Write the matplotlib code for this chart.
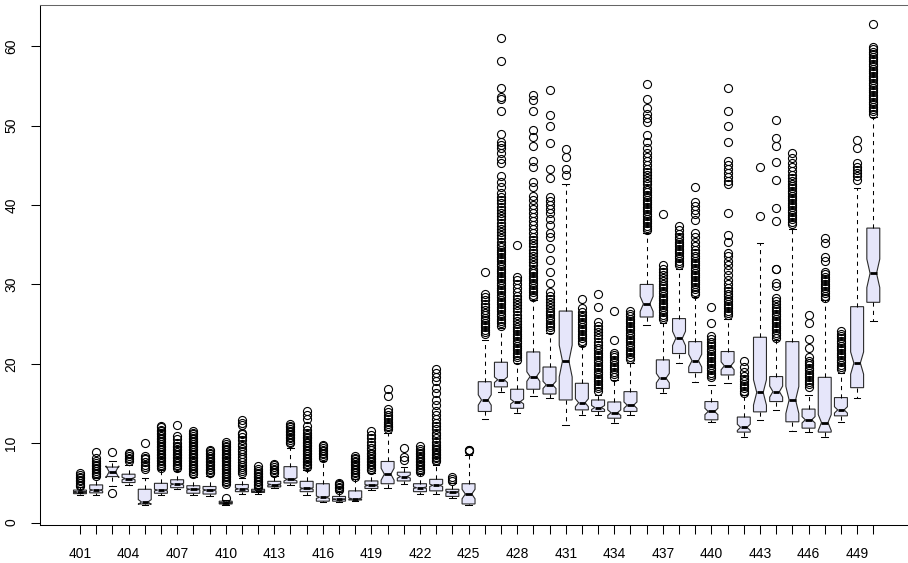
import numpy as np
import matplotlib
matplotlib.use('Agg')
import matplotlib.pyplot as plt

plt.rcParams['font.family'] = ['Liberation Sans', 'DejaVu Sans']

groups = list(range(401, 451))

# five-number summaries per group
whis_lo = [3.5, 3.5, 4.6, 4.75, 2.2, 3.5, 4.2, 3.5, 3.4, 2.2,
           3.6, 3.6, 4.3, 4.8, 3.5, 2.6, 2.6, 2.7, 4.1, 4.35,
           4.9, 3.6, 3.6, 3.1, 2.2, 13.05, 16.4, 13.85, 15.95, 15.7,
           12.3, 13.55, 13.55, 12.6, 13.6, 24.9, 16.3, 20.1, 17.75, 12.7,
           17.6, 10.8, 12.95, 14.2, 11.5, 11.4, 10.8, 12.7, 15.7, 25.45]
q1 = [3.65, 3.75, 5.8, 5.05, 2.35, 3.7, 4.4, 3.7, 3.6, 2.35,
      3.9, 3.8, 4.5, 5.0, 3.9, 2.7, 2.7, 2.85, 4.3, 4.9,
      5.25, 3.9, 4.0, 3.3, 2.35, 14.0, 17.1, 14.4, 16.8, 16.2,
      15.45, 14.2, 14.0, 13.15, 14.0, 25.9, 16.9, 21.3, 18.9, 12.95,
      18.6, 11.4, 13.95, 15.25, 12.7, 11.9, 11.4, 13.45, 17.0, 27.75]
med = [3.85, 4.1, 6.4, 5.55, 2.6, 4.1, 4.85, 4.2, 4.1, 2.5,
       4.25, 3.95, 4.8, 5.45, 4.3, 3.2, 2.95, 3.0, 4.7, 6.1,
       5.8, 4.4, 4.7, 3.85, 3.6, 15.45, 18.0, 15.25, 18.4, 17.35,
       20.35, 15.1, 14.5, 13.85, 14.8, 27.55, 18.2, 23.2, 20.4, 14.0,
       19.75, 12.0, 16.4, 16.5, 15.45, 12.95, 12.6, 14.2, 20.1, 31.4]
q3 = [4.1, 4.75, 7.0, 6.1, 4.2, 4.95, 5.4, 4.65, 4.55, 2.7,
      4.8, 4.2, 5.2, 7.05, 5.2, 4.9, 3.3, 4.0, 5.25, 7.7,
      6.35, 4.9, 5.45, 4.2, 4.9, 17.75, 20.2, 16.8, 21.5, 19.6,
      26.65, 17.55, 15.45, 15.2, 16.5, 30.0, 20.5, 25.7, 22.8, 15.25,
      21.55, 13.3, 23.35, 18.4, 22.8, 14.3, 18.3, 15.75, 27.2, 37.1]
whis_hi = [4.5, 5.6, 7.8, 7.3, 5.6, 6.6, 6.5, 5.8, 5.9, 2.9,
           5.6, 4.3, 5.9, 9.4, 6.6, 7.8, 3.8, 5.5, 6.3, 11.3,
           7.0, 6.1, 7.2, 5.0, 8.5, 23.0, 24.5, 20.1, 28.0, 23.85,
           42.6, 22.2, 16.1, 18.0, 20.1, 36.45, 25.1, 32.0, 28.45, 17.35,
           25.7, 16.1, 35.25, 23.0, 37.0, 16.1, 28.0, 18.8, 42.1, 51.1]
# half-height of the notch around the median
notch = [0.05, 0.1, 0.75, 0.15, 0.3, 0.1, 0.1, 0.08, 0.1, 0.03,
         0.1, 0.03, 0.08, 0.2, 0.1, 0.15, 0.05, 0.1, 0.1, 0.75,
         0.2, 0.1, 0.15, 0.1, 0.6, 0.65, 0.35, 0.3, 0.6, 0.45,
         2.0, 0.5, 0.25, 0.35, 0.4, 0.95, 0.6, 0.9, 0.8, 0.4,
         0.5, 0.4, 1.6, 0.7, 1.7, 0.4, 1.0, 0.4, 1.4, 1.8]

fliers = [
    [4.6, 4.8, 5.0, 5.2, 5.4, 5.6, 5.8, 6.0, 6.2],
    [5.9, 6.1, 6.3, 6.5, 6.7, 6.9, 7.1, 7.3, 7.5, 7.8, 8.2, 8.9],
    [3.7, 8.9],
    [7.8, 8.0, 8.2, 8.4, 8.6, 8.8],
    [6.8, 7.0, 7.3, 7.6, 8.0, 8.2, 8.4, 10.0],
    [6.9, 7.1, 7.3, 7.5, 7.7, 7.9, 8.1, 8.3, 8.5, 8.7, 8.9, 9.1, 9.3, 9.5,
     9.7, 9.9, 10.1, 10.3, 10.5, 10.7, 10.9, 11.1, 11.3, 11.5, 11.7, 12.0, 12.2],
    [6.9, 7.1, 7.3, 7.5, 7.7, 7.9, 8.1, 8.3, 8.5, 8.7, 8.9, 9.1, 9.3, 9.5,
     9.7, 10.0, 10.5, 10.9, 12.3],
    [6.1, 6.3, 6.5, 6.7, 6.9, 7.1, 7.3, 7.5, 7.7, 7.9, 8.1, 8.3, 8.5, 8.7,
     8.9, 9.1, 9.3, 9.5, 9.7, 9.9, 10.1, 10.3, 10.5, 10.7, 10.9, 11.1, 11.3, 11.5],
    [6.2, 6.4, 6.6, 6.8, 7.0, 7.2, 7.4, 7.6, 7.8, 8.0, 8.2, 8.4, 8.6, 8.8, 9.0, 9.1],
    [3.1, 4.9, 5.1, 5.3, 5.5, 5.7, 5.9, 6.1, 6.3, 6.5, 6.7, 6.9, 7.1, 7.3,
     7.5, 7.7, 7.9, 8.1, 8.3, 8.5, 8.7, 8.9, 9.1, 9.3, 9.5, 9.7, 9.9, 10.1],
    [6.3, 6.5, 6.8, 7.0, 7.3, 7.6, 8.0, 8.3, 8.6, 9.0, 9.3, 9.6, 9.9, 10.4,
     10.8, 11.1, 11.3, 12.3, 12.6, 12.9],
    [4.5, 4.7, 4.9, 5.1, 5.3, 5.5, 5.7, 5.9, 6.1, 6.3, 6.5, 6.8, 7.1],
    [6.2, 6.4, 6.6, 6.8, 7.0, 7.2, 7.4],
    [10.0, 10.2, 10.4, 10.6, 10.8, 11.0, 11.2, 11.4, 11.6, 11.8, 12.0, 12.2, 12.4],
    [7.0, 7.2, 7.4, 7.6, 7.8, 8.0, 8.2, 8.4, 8.6, 8.8, 9.0, 9.2, 9.4, 9.6,
     9.8, 10.0, 10.2, 10.4, 10.6, 10.8, 11.0, 11.3, 11.7, 12.2, 13.1, 13.5, 14.1],
    [8.2, 8.4, 8.6, 8.8, 9.0, 9.2, 9.4, 9.6, 9.8],
    [4.1, 4.3, 4.5, 4.7, 4.9, 5.0],
    [5.8, 6.0, 6.2, 6.4, 6.6, 6.8, 7.0, 7.2, 7.4, 7.6, 7.8, 8.0, 8.2, 8.4],
    [6.6, 6.8, 7.0, 7.2, 7.4, 7.6, 7.8, 8.0, 8.2, 8.4, 8.6, 8.8, 9.1, 9.4,
     9.8, 10.2, 10.6, 11.0, 11.5],
    [11.8, 12.0, 12.2, 12.4, 12.7, 13.0, 13.3, 13.6, 13.9, 14.3, 15.9, 16.8],
    [7.9, 8.3, 9.4],
    [6.4, 6.6, 6.8, 7.0, 7.2, 7.4, 7.6, 7.8, 8.0, 8.2, 8.4, 8.6, 8.8, 9.0, 9.3, 9.6],
    [7.7, 7.9, 8.1, 8.3, 8.5, 8.7, 8.9, 9.1, 9.3, 9.5, 9.8, 10.2, 10.6, 11.0,
     11.3, 11.8, 12.2, 12.6, 13.0, 13.5, 14.0, 14.8, 15.5, 16.3, 17.0, 17.8,
     18.3, 18.8, 19.3],
    [5.3, 5.5, 5.7],
    [9.0, 9.1, 9.2],
    [23.7, 24.0, 24.3, 24.6, 24.9, 25.2, 25.5, 25.8, 26.1, 26.4, 26.8, 27.2,
     27.6, 28.0, 28.4, 28.8, 31.6],
    [24.8, 25.1, 25.4, 25.7, 26.0, 26.3, 26.6, 26.9, 27.2, 27.5, 27.8, 28.1,
     28.4, 28.7, 29.0, 29.3, 29.6, 29.9, 30.2, 30.5, 30.8, 31.1, 31.4, 31.7,
     32.0, 32.3, 32.6, 32.9, 33.2, 33.5, 33.8, 34.1, 34.4, 34.7, 35.0, 35.4,
     35.8, 36.2, 36.6, 37.0, 37.4, 37.8, 38.2, 38.6, 39.0, 39.4, 39.8, 40.2,
     40.6, 41.0, 41.5, 42.3, 42.9, 43.6, 45.3, 45.8, 46.6, 47.2, 47.6, 48.0,
     49.0, 51.8, 53.3, 53.6, 54.8, 58.1, 61.0],
    [20.5, 20.8, 21.1, 21.4, 21.7, 22.0, 22.3, 22.6, 22.9, 23.2, 23.5, 23.8,
     24.1, 24.4, 24.7, 25.0, 25.4, 25.8, 26.2, 26.6, 27.0, 27.4, 27.8, 28.2,
     28.6, 29.0, 29.5, 30.0, 30.5, 31.0, 35.0],
    [28.4, 28.7, 29.0, 29.3, 29.6, 29.9, 30.2, 30.5, 30.8, 31.1, 31.4, 31.7,
     32.0, 32.4, 32.8, 33.2, 33.6, 34.0, 34.4, 34.8, 35.2, 35.6, 36.0, 36.5,
     37.0, 37.5, 38.0, 38.5, 39.0, 39.5, 40.0, 40.6, 41.2, 42.3, 42.9, 44.8,
     45.5, 47.5, 48.6, 49.4, 51.8, 53.2, 53.9],
    [24.3, 24.6, 24.9, 25.2, 25.5, 25.8, 26.1, 26.4, 26.7, 27.0, 27.4, 27.8,
     28.2, 28.6, 29.0, 30.2, 31.6, 33.1, 34.6, 36.0, 36.5, 37.5, 38.3, 39.0,
     39.5, 40.0, 40.5, 41.0, 43.4, 44.6, 47.8, 50.0, 51.3, 54.5],
    [43.8, 44.6, 46.1, 47.0],
    [22.6, 22.9, 23.2, 23.5, 23.8, 24.1, 24.4, 24.7, 25.0, 25.3, 25.6, 25.9,
     26.2, 26.5, 27.0, 28.2],
    [16.6, 16.9, 17.2, 17.5, 17.8, 18.1, 18.4, 18.7, 19.0, 19.3, 19.6, 19.9,
     20.2, 20.5, 20.8, 21.1, 21.4, 21.7, 22.0, 22.4, 22.8, 23.2, 23.6, 24.0,
     24.4, 24.8, 25.3, 27.2, 28.8],
    [18.4, 18.7, 19.0, 19.3, 19.6, 19.9, 20.2, 20.5, 20.8, 21.1, 21.4, 23.0, 26.6],
    [20.6, 20.9, 21.2, 21.5, 21.8, 22.1, 22.4, 22.7, 23.0, 23.3, 23.6, 23.9,
     24.2, 24.5, 24.8, 25.1, 25.4, 25.7, 26.0, 26.3, 26.6],
    [36.8, 37.1, 37.4, 37.7, 38.0, 38.3, 38.6, 38.9, 39.2, 39.5, 39.8, 40.1,
     40.4, 40.7, 41.0, 41.3, 41.6, 41.9, 42.2, 42.6, 43.0, 43.4, 43.8, 44.2,
     44.6, 45.0, 45.5, 46.1, 46.6, 47.2, 48.0, 48.8, 50.5, 51.0, 51.5, 52.2,
     53.4, 55.3],
    [25.6, 25.9, 26.2, 26.5, 26.8, 27.1, 27.4, 27.7, 28.0, 28.3, 28.6, 28.9,
     29.2, 29.5, 29.8, 30.1, 30.4, 30.8, 31.2, 31.6, 32.0, 32.5, 38.9],
    [32.4, 32.7, 33.0, 33.3, 33.6, 33.9, 34.2, 34.5, 34.8, 35.1, 35.4, 35.7,
     36.0, 36.4, 36.9, 37.3],
    [28.8, 29.1, 29.4, 29.7, 30.0, 30.3, 30.6, 30.9, 31.2, 31.5, 31.8, 32.1,
     32.4, 32.7, 33.0, 33.3, 33.6, 34.0, 34.4, 34.9, 35.4, 36.0, 36.5, 38.1,
     38.9, 39.4, 39.9, 40.4, 42.3],
    [18.3, 18.6, 18.9, 19.2, 19.5, 19.8, 20.1, 20.4, 20.7, 21.0, 21.3, 21.6,
     21.9, 22.2, 22.5, 22.8, 23.1, 23.5, 25.1, 27.2],
    [26.1, 26.4, 26.7, 27.0, 27.3, 27.6, 27.9, 28.2, 28.5, 28.8, 29.2, 29.6,
     30.0, 30.6, 31.2, 31.8, 32.4, 33.0, 33.6, 34.0, 35.3, 36.2, 39.0, 42.6,
     43.0, 43.5, 44.0, 44.5, 45.0, 45.5, 48.0, 49.9, 51.8, 54.7],
    [16.3, 16.6, 16.9, 17.2, 17.5, 17.8, 18.1, 18.5, 19.0, 19.6, 20.3],
    [38.6, 44.8],
    [23.3, 23.6, 23.9, 24.2, 24.5, 24.8, 25.1, 25.4, 25.7, 26.0, 26.3, 26.6,
     26.9, 27.2, 27.5, 27.9, 28.3, 29.8, 30.2, 31.9, 32.0, 38.0, 39.6, 43.2,
     45.4, 47.4, 48.4, 50.7],
    [37.6, 37.9, 38.2, 38.5, 38.8, 39.1, 39.4, 39.7, 40.0, 40.3, 40.6, 40.9,
     41.2, 41.5, 41.8, 42.1, 42.4, 42.7, 43.0, 43.4, 43.8, 44.3, 44.8, 45.3,
     45.9, 46.5],
    [17.1, 17.4, 17.7, 18.0, 18.3, 18.6, 18.9, 19.2, 19.5, 19.8, 20.1, 20.4,
     20.9, 22.0, 23.1, 25.1, 26.2],
    [28.3, 28.6, 28.9, 29.2, 29.5, 29.8, 30.1, 30.4, 30.7, 31.0, 31.3, 31.6,
     32.9, 33.5, 35.25, 35.8],
    [19.3, 19.6, 19.9, 20.2, 20.5, 20.8, 21.1, 21.4, 21.7, 22.0, 22.3, 22.6,
     22.9, 23.2, 23.5, 23.8, 24.1],
    [43.2, 43.6, 44.0, 44.4, 44.8, 45.3, 47.2, 48.2],
    [51.5, 51.8, 52.1, 52.4, 52.7, 53.0, 53.3, 53.6, 53.9, 54.2, 54.5, 54.8,
     55.1, 55.4, 55.7, 56.0, 56.3, 56.6, 56.9, 57.2, 57.5, 57.8, 58.1, 58.4,
     58.7, 59.0, 59.3, 59.6, 59.9, 62.8],
]

stats = []
for i, g in enumerate(groups):
    stats.append(dict(label=str(g), whislo=whis_lo[i], q1=q1[i], med=med[i],
                      q3=q3[i], whishi=whis_hi[i],
                      cilo=med[i] - notch[i], cihi=med[i] + notch[i],
                      fliers=np.array(fliers[i])))

fig = plt.figure(figsize=(9.08, 5.63), dpi=100)
ax = fig.add_axes([40 / 908, 1 - 525 / 563, (912 - 40) / 908, (525 - 5) / 563])

pos = np.arange(1, len(groups) + 1)
ax.bxp(stats, positions=pos, widths=0.8, shownotches=True, patch_artist=True,
       boxprops=dict(facecolor='#E6E6FA', edgecolor='#2b2b2b', linewidth=0.8),
       medianprops=dict(color='black', linewidth=2.0),
       whiskerprops=dict(color='black', linewidth=0.75, linestyle=(0, (4, 4))),
       capprops=dict(color='black', linewidth=0.75),
       flierprops=dict(marker='o', markerfacecolor='none', markeredgecolor='black',
                       markersize=5.8, markeredgewidth=0.8))

ax.set_xlim(-1.47, 52.39)
ax.set_ylim(-0.3, 65.2)

ax.set_xticks(pos)
ax.set_xticklabels([str(g) if (g - 401) % 3 == 0 else '' for g in groups])
ax.set_yticks([0, 10, 20, 30, 40, 50, 60])

ax.tick_params(axis='both', length=6.5, width=0.75, labelsize=10, color='black')
ax.tick_params(axis='x', pad=9)
ax.tick_params(axis='y', pad=9)
for lab in ax.get_yticklabels():
    lab.set_rotation(90)
    lab.set_va('center')

for s in ax.spines.values():
    s.set_linewidth(0.75)
    s.set_color('black')
ax.spines['top'].set_color('#666666')

fig.savefig('out.png', dpi=100)
